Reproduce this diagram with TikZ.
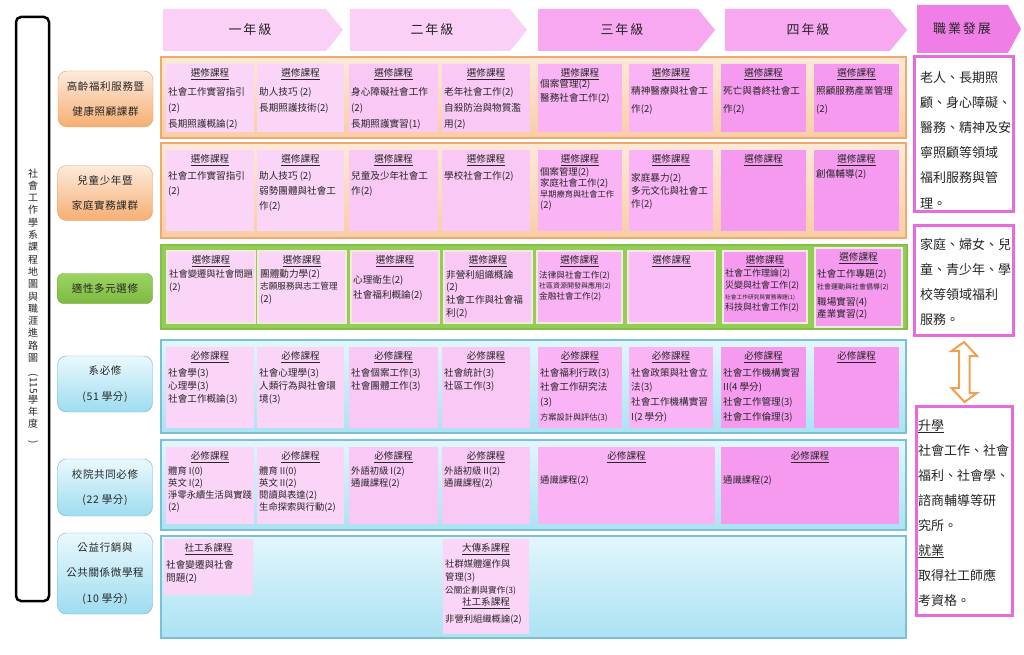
\documentclass[tikz,border=0pt]{standalone}
\usepackage{fontspec}
\setmainfont{Noto Sans CJK TC}
\newfontfamily\lsfont[LetterSpace=6]{Noto Sans CJK TC}
\newfontfamily\hfont[LetterSpace=15]{Noto Sans CJK TC}
\usepackage{graphicx}
\definecolor{pkA}{HTML}{FBD5F8}
\definecolor{pkB}{HTML}{F9C8F5}
\definecolor{pkC}{HTML}{FAB3F4}
\definecolor{pkCC}{HTML}{FBBDF7}
\definecolor{pkD}{HTML}{F59AEF}
\definecolor{hdA}{HTML}{FAD0F7}
\definecolor{hdB}{HTML}{F7A8F0}
\definecolor{hdC}{HTML}{EF7EE6}
\definecolor{txt}{HTML}{262626}
\definecolor{orT}{HTML}{FDE9D8}
\definecolor{orB}{HTML}{F9CDA6}
\definecolor{orE}{HTML}{F0A96F}
\definecolor{lorT}{HTML}{FDEBDD}
\definecolor{lorB}{HTML}{F6AE72}
\definecolor{lorE}{HTML}{E3A06A}
\definecolor{grn}{HTML}{93CD55}
\definecolor{grnE}{HTML}{84BF47}
\definecolor{lgrT}{HTML}{9DD462}
\definecolor{lgrB}{HTML}{7DB941}
\definecolor{lgrE}{HTML}{6CA538}
\definecolor{gbord}{HTML}{F2EADF}
\definecolor{buT}{HTML}{E2F6FC}
\definecolor{buB}{HTML}{ABE2F3}
\definecolor{buE}{HTML}{7CC0D6}
\definecolor{lbuT}{HTML}{EAF9FD}
\definecolor{lbuB}{HTML}{9EDCF0}
\definecolor{lbuE}{HTML}{72B4CB}
\definecolor{mag}{HTML}{E86BDD}
\definecolor{arrO}{HTML}{F0A050}
\newcommand{\mkcell}[7]{%
  \pgfmathsetmacro{\mkw}{#4-#2}%
  \pgfmathsetmacro{\mkh}{#5-#3}%
  \pgfmathsetmacro{\mkx}{(#2+#4)/2}%
  \pgfmathsetmacro{\mky}{(#3+#5)/2}%
  \node[cellbox, #6, minimum width=\mkw pt, minimum height=\mkh pt] (#1) at (\mkx,\mky) {};%
  \node[hdr] (#1h) at ([yshift=-10pt]#1.north) {\underline{#7}};%
}
\begin{document}
\begin{tikzpicture}[x=1pt,y=-1pt,
  cellbox/.style={rectangle, inner sep=0pt, outer sep=0pt},
  hdr/.style={inner sep=0pt, text=txt, font=\fontsize{9.6}{11}\selectfont},
  body/.style={anchor=north west, inner sep=0pt, align=left, text=txt},
  lbl/.style={rounded corners=9pt, inner sep=0pt, align=center, text=txt, font=\lsfont\fontsize{10.5}{25.5}\selectfont},
  rbox/.style={rectangle, draw=mag, line width=3pt, fill=white, inner sep=0pt},
  rtext/.style={anchor=north west, inner sep=0pt, align=left, text=txt, font=\fontsize{13}{25.2}\selectfont},
  htext/.style={inner sep=0pt, text=txt, font=\hfont\fontsize{13}{14}\selectfont},
  rowO/.style={rectangle, inner sep=0pt, top color=orT, bottom color=orB, draw=orE, line width=2pt},
  rowB/.style={rectangle, inner sep=0pt, top color=buT, bottom color=buB, draw=buE, line width=1.2pt},
]
\useasboundingbox (0,0) rectangle (1024,655);
\fill[white] (0,0) rectangle (1024,655);

% title box
\node[draw=black, line width=2.5pt, rounded corners=5pt, minimum width=33pt, minimum height=584pt, inner sep=0pt] (tbox) at (32.5,309) {};
\node[inner sep=0pt, align=center, text=txt, font=\fontsize{10}{12.3}\selectfont] (ttl) at (33,306)
 {社\\會\\工\\作\\學\\系\\課\\程\\地\\圖\\與\\職\\涯\\進\\路\\圖\\\rotatebox{-90}{(115}\\學\\年\\度\\\rotatebox{-90}{)}};

% header arrows
\fill[hdA] (163,9) -- (326,9) -- (343,30) -- (326,51) -- (163,51) -- cycle;
\node[htext] (yr1) at (250,30) {一年級};
\fill[hdA] (350,9) -- (510,9) -- (527,30) -- (510,51) -- (350,51) -- cycle;
\node[htext] (yr2) at (432,30) {二年級};
\fill[hdB] (538,9) -- (698,9) -- (715,30) -- (698,51) -- (538,51) -- cycle;
\node[htext] (yr3) at (622,30) {三年級};
\fill[hdB] (725,9) -- (890,9) -- (907,30) -- (890,51) -- (725,51) -- cycle;
\node[htext] (yr4) at (808,30) {四年級};
\fill[hdC] (917,5) -- (1008,5) -- (1021,29) -- (1008,53) -- (917,53) -- cycle;
\node[htext] (car) at (962,29) {職業發展};

% row labels
\node[lbl, top color=lorT, bottom color=lorB, draw=lorE, minimum width=95pt, minimum height=56pt] (g1) at (105.5,99) {高齡福利服務暨\\健康照顧課群};
\node[lbl, top color=lorT, bottom color=lorB, draw=lorE, minimum width=95pt, minimum height=55pt] (g2) at (105,193) {兒童少年暨\\家庭實務課群};
\node[lbl, top color=lgrT, bottom color=lgrB, draw=lgrE, minimum width=95pt, minimum height=30pt, rounded corners=6pt] (g3) at (105,288.5) {適性多元選修};
\node[lbl, top color=lbuT, bottom color=lbuB, draw=lbuE, minimum width=95pt, minimum height=56pt] (g4) at (105,384) {系必修\\(51 學分)};
\node[lbl, top color=lbuT, bottom color=lbuB, draw=lbuE, minimum width=95pt, minimum height=57pt] (g5) at (105,487.5) {校院共同必修\\(22 學分)};
\node[lbl, top color=lbuT, bottom color=lbuB, draw=lbuE, minimum width=95pt, minimum height=81pt] (g6) at (105,573.5) {公益行銷與\\公共關係微學程\\(10 學分)};

% row containers
\node[rowO, minimum width=745pt, minimum height=81pt] (r1) at (533.5,97.5) {};
\node[rowO, minimum width=745pt, minimum height=95pt] (r2) at (533.5,190.5) {};
\node[rectangle, inner sep=0pt, fill=grn, draw=grnE, line width=1.5pt, minimum width=746pt, minimum height=84pt] (r3) at (534,287) {};
\node[rowB, minimum width=745pt, minimum height=93pt] (r4) at (533.5,386.5) {};
\node[rowB, minimum width=745pt, minimum height=90pt] (r5) at (533.5,485) {};
\node[rowB, minimum width=745pt, minimum height=102pt] (r6) at (533.5,587) {};

% ---------- row 1
\mkcell{c11}{166}{64}{254}{132}{fill=pkA}{選修課程}
\node[body, font=\fontsize{9.6}{16}\selectfont] (c11b) at (168,86.8) {社會工作實習指引\\(2)\\長期照護概論(2)};
\mkcell{c12}{257}{64}{344}{132}{fill=pkA}{選修課程}
\node[body, font=\fontsize{9.6}{16}\selectfont] (c12b) at (259,86.8) {助人技巧 (2)\\長期照護技術(2)};
\mkcell{c13}{349}{64}{438}{132}{fill=pkB}{選修課程}
\node[body, font=\fontsize{9.6}{16}\selectfont] (c13b) at (351,86.8) {身心障礙社會工作\\(2)\\長期照護實習(1)};
\mkcell{c14}{442}{64}{530}{132}{fill=pkB}{選修課程}
\node[body, font=\fontsize{9.6}{16}\selectfont] (c14b) at (444,86.8) {老年社會工作(2)\\自殺防治與物質濫\\用(2)};
\mkcell{c15}{538}{64}{622}{132}{fill=pkC}{選修課程}
\node[body, font=\fontsize{9.6}{14}\selectfont] (c15b) at (540,78.8) {個案管理(2)\\醫務社會工作(2)};
\mkcell{c16}{629}{64}{713}{132}{fill=pkC}{選修課程}
\node[body, font=\fontsize{9.6}{18}\selectfont] (c16b) at (631,85.8) {精神醫療與社會工\\作(2)};
\mkcell{c17}{721}{64}{806}{132}{fill=pkD}{選修課程}
\node[body, font=\fontsize{9.6}{18}\selectfont] (c17b) at (723,85.8) {死亡與善終社會工\\作(2)};
\mkcell{c18}{814}{64}{899}{132}{fill=pkD}{選修課程}
\node[body, font=\fontsize{9.6}{18}\selectfont] (c18b) at (816,85.8) {照顧服務產業管理\\(2)};

% ---------- row 2
\mkcell{c21}{166}{150}{254}{231}{fill=pkA}{選修課程}
\node[body, font=\fontsize{9.6}{15}\selectfont] (c21b) at (168,170.8) {社會工作實習指引\\(2)};
\mkcell{c22}{257}{150}{344}{231}{fill=pkA}{選修課程}
\node[body, font=\fontsize{9.6}{15}\selectfont] (c22b) at (259,170.8) {助人技巧 (2)\\弱勢團體與社會工\\作(2)};
\mkcell{c23}{349}{150}{438}{231}{fill=pkB}{選修課程}
\node[body, font=\fontsize{9.6}{15}\selectfont] (c23b) at (351,170.8) {兒童及少年社會工\\作(2)};
\mkcell{c24}{442}{150}{530}{231}{fill=pkB}{選修課程}
\node[body, font=\fontsize{9.6}{15}\selectfont] (c24b) at (444,170.8) {學校社會工作(2)};
\mkcell{c25}{538}{150}{622}{231}{fill=pkC}{選修課程}
\node[body, font=\fontsize{9.4}{11}\selectfont] (c25b) at (540,167.8) {個案管理(2)\\家庭社會工作(2)\\{\fontsize{8.2}{9}\selectfont 早期療育與社會工作}\\(2)};
\mkcell{c26}{629}{150}{713}{231}{fill=pkC}{選修課程}
\node[body, font=\fontsize{9.6}{13}\selectfont] (c26b) at (631,172.8) {家庭暴力(2)\\多元文化與社會工\\作(2)};
\mkcell{c27}{721}{150}{806}{231}{fill=pkD}{選修課程}
\mkcell{c28}{814}{150}{899}{231}{fill=pkD}{選修課程}
\node[body, font=\fontsize{9.6}{13}\selectfont] (c28b) at (816,168.8) {創傷輔導(2)};

% ---------- row 3
\mkcell{c31}{167}{251}{255}{323}{fill=pkA, draw=gbord, line width=1.5pt}{選修課程}
\node[body, font=\fontsize{9.3}{13}\selectfont] (c31b) at (169,269.8) {社會變遷與社會問題\\(2)};
\mkcell{c32}{258}{251}{346}{323}{fill=pkA, draw=gbord, line width=1.5pt}{選修課程}
\node[body, font=\fontsize{9.6}{12.5}\selectfont] (c32b) at (260,268.8) {團體動力學(2)\\{\fontsize{8.6}{9}\selectfont 志願服務與志工管理}\\(2)};
\mkcell{c33}{351}{251}{439}{323}{fill=pkB, draw=gbord, line width=1.5pt}{選修課程}
\node[body, font=\fontsize{9.6}{15}\selectfont] (c33b) at (353,274.8) {心理衛生(2)\\社會福利概論(2)};
\mkcell{c34}{444}{251}{532}{323}{fill=pkB, draw=gbord, line width=1.5pt}{選修課程}
\node[body, font=\fontsize{9.6}{12.7}\selectfont] (c34b) at (446,269.8) {非營利組織概論\\(2)\\社會工作與社會福\\利(2)};
\mkcell{c35}{537}{251}{622}{323}{fill=pkC, draw=gbord, line width=1.5pt}{選修課程}
\node[body, font=\fontsize{8.6}{10.3}\selectfont] (c35b) at (539,271.2) {法律與社會工作(2)\\{\fontsize{7}{8}\selectfont 社區資源開發與應用(2)}\\金融社會工作(2)};
\mkcell{c36}{628}{251}{715}{323}{fill=pkCC, draw=gbord, line width=1.5pt}{選修課程}
\mkcell{c37}{723}{251}{807}{323}{fill=pkD, draw=gbord, line width=1.5pt}{選修課程}
\node[body, font=\fontsize{9}{11.3}\selectfont] (c37b) at (725,269) {社會工作理論(2)\\災變與社會工作(2)\\{\fontsize{5.7}{6}\selectfont 社會工作研究與實務專題(1)}\\科技與社會工作(2)};
\mkcell{c38}{815}{248}{902}{327}{fill=pkD, draw=gbord, line width=1.5pt}{選修課程}
\node[body, font=\fontsize{9.6}{12}\selectfont] (c38b) at (817,268.8) {社會工作專題(2)\\{\fontsize{7}{8}\selectfont 社會運動與社會倡導(2)}\\[4pt]職場實習(4)\\產業實習(2)};

% ---------- row 4
\mkcell{c41}{166}{347}{254}{428}{fill=pkA}{必修課程}
\node[body, font=\fontsize{9.6}{13}\selectfont] (c41b) at (168,367.8) {社會學(3)\\心理學(3)\\社會工作概論(3)};
\mkcell{c42}{257}{347}{344}{428}{fill=pkA}{必修課程}
\node[body, font=\fontsize{9.6}{13}\selectfont] (c42b) at (259,367.8) {社會心理學(3)\\人類行為與社會環\\境(3)};
\mkcell{c43}{349}{347}{438}{428}{fill=pkB}{必修課程}
\node[body, font=\fontsize{9.6}{13}\selectfont] (c43b) at (351,367.8) {社會個案工作(3)\\社會團體工作(3)};
\mkcell{c44}{442}{347}{530}{428}{fill=pkB}{必修課程}
\node[body, font=\fontsize{9.6}{13}\selectfont] (c44b) at (444,367.8) {社會統計(3)\\社區工作(3)};
\mkcell{c45}{538}{347}{622}{428}{fill=pkC}{必修課程}
\node[body, font=\fontsize{9.6}{14.7}\selectfont] (c45b) at (540,367.8) {社會福利行政(3)\\社會工作研究法\\(3)\\{\fontsize{8.2}{9}\selectfont 方案設計與評估(3)}};
\mkcell{c46}{629}{347}{713}{428}{fill=pkC}{必修課程}
\node[body, font=\fontsize{9.6}{14.7}\selectfont] (c46b) at (631,367.8) {社會政策與社會立\\法(3)\\社會工作機構實習\\I(2 學分)};
\mkcell{c47}{721}{347}{806}{428}{fill=pkD}{必修課程}
\node[body, font=\fontsize{9.6}{14.7}\selectfont] (c47b) at (723,367.8) {社會工作機構實習\\II(4 學分)\\社會工作管理(3)\\社會工作倫理(3)};
\mkcell{c48}{814}{347}{899}{428}{fill=pkD}{必修課程}

% ---------- row 5
\mkcell{c51}{166}{447}{254}{524}{fill=pkA}{必修課程}
\node[body, font=\fontsize{9.3}{11.7}\selectfont] (c51b) at (168,466.8) {體育 I(0)\\英文 I(2)\\淨零永續生活與實踐\\(2)};
\mkcell{c52}{257}{447}{344}{524}{fill=pkA}{必修課程}
\node[body, font=\fontsize{9.3}{11.7}\selectfont] (c52b) at (259,466.8) {體育 II(0)\\英文 II(2)\\閱讀與表達(2)\\生命探索與行動(2)};
\mkcell{c53}{349}{447}{438}{524}{fill=pkB}{必修課程}
\node[body, font=\fontsize{9.3}{11.7}\selectfont] (c53b) at (351,466.8) {外語初級 I(2)\\通識課程(2)};
\mkcell{c54}{442}{447}{530}{524}{fill=pkB}{必修課程}
\node[body, font=\fontsize{9.3}{11.7}\selectfont] (c54b) at (444,466.8) {外語初級 II(2)\\通識課程(2)};
\mkcell{c55}{538}{447}{715}{524}{fill=pkC}{必修課程}
\node[body, font=\fontsize{9.3}{11.7}\selectfont] (c55b) at (540,475.8) {通識課程(2)};
\mkcell{c57}{721}{447}{899}{524}{fill=pkD}{必修課程}
\node[body, font=\fontsize{9.3}{11.7}\selectfont] (c57b) at (723,475.8) {通識課程(2)};

% ---------- row 6
\mkcell{c61}{164}{539}{253}{595}{fill=pkA}{社工系課程}
\node[body, font=\fontsize{9.6}{13}\selectfont] (c61b) at (166,559.8) {社會變遷與社會\\問題(2)};
\mkcell{c64}{443}{539}{529}{634}{fill=pkA}{大傳系課程}
\node[body, font=\fontsize{9.3}{13}\selectfont] (c64b) at (445,559.8) {社群媒體運作與\\管理(3)\\{\fontsize{8.6}{9}\selectfont 公關企劃與實作(3)}};
\node[hdr] (c64h2) at (486,603) {\underline{社工系課程}};
\node[body, font=\fontsize{9.3}{13}\selectfont] (c64b2) at (445,614.8) {非營利組織概論(2)};

% ---------- right column
\node[rbox, minimum width=99pt, minimum height=155pt] (cb1) at (964,134) {};
\node[rtext] (cb1t) at (920,71) {老人、長期照\\顧、身心障礙、\\醫務、精神及安\\寧照顧等領域\\福利服務與管\\理。};
\node[rbox, minimum width=99pt, minimum height=110pt] (cb2) at (964,280.5) {};
\node[rtext] (cb2t) at (920,238) {家庭、婦女、兒\\童、青少年、學\\校等領域福利\\服務。};
\node[rbox, minimum width=96pt, minimum height=209pt] (cb3) at (964.5,511) {};
\node[rtext, font=\fontsize{13}{25}\selectfont] (cb3t) at (918,419) {\underline{升學}\\社會工作、社會\\福利、社會學、\\諮商輔導等研\\究所。\\\underline{就業}\\取得社工師應\\考資格。};

% double arrow between cb2 and cb3
\coordinate (dt) at ([yshift=-5pt]cb2.south);
\coordinate (db) at ([yshift=3pt]cb3.north);
\draw[arrO, line width=2pt, fill=white, line join=miter]
  (dt) -- ++(13,14) -- ++(-7.5,0) -- ++(0,37) -- ++(7.5,0) -- (db) -- ++(-13,-14) -- ++(7.5,0) -- ++(0,-37) -- ++(-7.5,0) -- cycle;
\end{tikzpicture}
\end{document}
